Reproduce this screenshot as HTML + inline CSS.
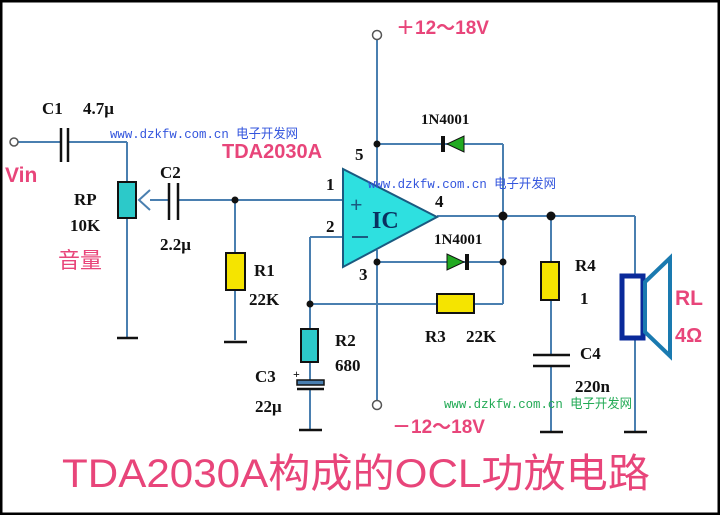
<!DOCTYPE html>
<html><head><meta charset="utf-8"><style>
html,body{margin:0;padding:0;background:#fff}
svg{display:block}
text{font-family:"Liberation Serif","Noto Serif CJK SC",serif;font-weight:bold}
text.wm{font-family:"Liberation Mono","Noto Sans CJK SC",monospace;font-weight:normal;font-size:13px}
text.pk{font-family:"Liberation Sans","Noto Sans CJK SC",sans-serif;font-weight:bold;fill:#e8457a}
</style></head><body>
<svg width="720" height="515" viewBox="0 0 720 515" xmlns="http://www.w3.org/2000/svg">
<rect x="1" y="1" width="718" height="513" fill="#fff" stroke="#000" stroke-width="3"/>
<g stroke="#4a7fb0" stroke-width="2" fill="none">
<line x1="18" y1="142" x2="61" y2="142"/>
<line x1="68" y1="142" x2="127" y2="142"/>
<line x1="127" y1="142" x2="127" y2="182"/>
<line x1="127" y1="218" x2="127" y2="338"/>
<line x1="150" y1="200" x2="169" y2="200"/>
<line x1="178" y1="200" x2="343" y2="200"/>
<line x1="235" y1="200" x2="235" y2="253"/>
<line x1="235" y1="290" x2="235" y2="340"/>
<line x1="310" y1="237" x2="343" y2="237"/>
<line x1="310" y1="237" x2="310" y2="329"/>
<line x1="310" y1="304" x2="437" y2="304"/>
<line x1="474" y1="304" x2="503" y2="304"/>
<line x1="310" y1="362" x2="310" y2="380"/>
<line x1="310" y1="390" x2="310" y2="430"/>
<line x1="377" y1="40" x2="377" y2="186"/>
<line x1="377" y1="250" x2="377" y2="400"/>
<line x1="377" y1="144" x2="503" y2="144"/>
<line x1="377" y1="262" x2="503" y2="262"/>
<line x1="503" y1="144" x2="503" y2="304"/>
<line x1="437" y1="216" x2="635" y2="216"/>
<line x1="551" y1="216" x2="551" y2="262"/>
<line x1="551" y1="300" x2="551" y2="355"/>
<line x1="551" y1="366" x2="551" y2="432"/>
<line x1="635" y1="216" x2="635" y2="275"/>
<line x1="635" y1="338" x2="635" y2="432"/>
</g>
<g fill="#fff" stroke="#555" stroke-width="1.5">
<circle cx="14" cy="142" r="4"/><circle cx="377" cy="35" r="4.5"/><circle cx="377" cy="405" r="4.5"/>
</g>
<g stroke="#111" stroke-width="2.5">
<line x1="61" y1="128" x2="61" y2="162"/><line x1="68" y1="128" x2="68" y2="162"/>
<line x1="169" y1="183" x2="169" y2="220"/><line x1="178" y1="183" x2="178" y2="220"/>
<line x1="533" y1="355" x2="570" y2="355"/><line x1="533" y1="366" x2="570" y2="366"/>
<line x1="297" y1="389" x2="324" y2="389"/>
</g>
<rect x="297" y="380" width="27" height="5" fill="#4a7fb0" stroke="#111" stroke-width="1.5"/>
<text x="293" y="378" font-size="12" fill="#111">+</text>
<g stroke="#111" stroke-width="2.5">
<line x1="117" y1="338" x2="138" y2="338"/>
<line x1="224" y1="342" x2="247" y2="342"/>
<line x1="299" y1="430" x2="322" y2="430"/>
<line x1="540" y1="432" x2="563" y2="432"/>
<line x1="624" y1="432" x2="647" y2="432"/>
</g>
<g stroke="#111" stroke-width="2">
<rect x="118" y="182" width="18" height="36" fill="#2cc9c9"/>
<rect x="226" y="253" width="19" height="37" fill="#f5e400"/>
<rect x="301" y="329" width="17" height="33" fill="#2cc9c9"/>
<rect x="437" y="294" width="37" height="19" fill="#f5e400"/>
<rect x="541" y="262" width="18" height="38" fill="#f5e400"/>
</g>
<path d="M150 190 L139 200 L150 210" stroke="#4a7fb0" stroke-width="2" fill="none"/>
<polygon points="343,169 343,267 437,217" fill="#2ee0e0" stroke="#1a5a80" stroke-width="2"/>
<text x="350" y="212" font-size="22" fill="#1a5a80" font-family="Liberation Sans">+</text>
<line x1="352" y1="237" x2="368" y2="237" stroke="#1a5a80" stroke-width="2"/>
<text x="372" y="228" font-size="24" fill="#0a3060">IC</text>
<polygon points="464,136 464,152 447,144" fill="#22aa22" stroke="#111" stroke-width="1"/>
<line x1="443" y1="136" x2="443" y2="152" stroke="#111" stroke-width="4"/>
<polygon points="447,254 447,270 464,262" fill="#22aa22" stroke="#111" stroke-width="1"/>
<line x1="467" y1="254" x2="467" y2="270" stroke="#111" stroke-width="4"/>
<g fill="#111">
<circle cx="235" cy="200" r="3.5"/><circle cx="310" cy="304" r="3.5"/>
<circle cx="377" cy="144" r="3.5"/><circle cx="377" cy="262" r="3.5"/>
<circle cx="503" cy="216" r="4.5"/><circle cx="503" cy="262" r="3.5"/><circle cx="551" cy="216" r="4.5"/>
</g>
<rect x="622" y="276" width="21" height="62" fill="#fff" stroke="#0a2a9a" stroke-width="5"/>
<polygon points="645,282 670,258 670,356 645,332" fill="none" stroke="#1a7ab0" stroke-width="4"/>
<g fill="#111" font-size="17">
<text x="42" y="114">C1</text><text x="83" y="114">4.7μ</text>
<text x="74" y="205">RP</text><text x="70" y="231">10K</text>
<text x="160" y="178">C2</text><text x="160" y="250">2.2μ</text>
<text x="254" y="276">R1</text><text x="249" y="305">22K</text>
<text x="335" y="346">R2</text><text x="335" y="371">680</text>
<text x="255" y="382">C3</text><text x="255" y="412">22μ</text>
<text x="425" y="342">R3</text><text x="466" y="342">22K</text>
<text x="575" y="271">R4</text><text x="580" y="304">1</text>
<text x="580" y="359">C4</text><text x="575" y="392">220n</text>
<text x="326" y="190">1</text><text x="326" y="232">2</text>
<text x="355" y="160">5</text><text x="359" y="280">3</text><text x="435" y="207">4</text>
<text x="421" y="124" font-size="15">1N4001</text>
<text x="434" y="244" font-size="15">1N4001</text>
</g>
<text class="pk" x="5" y="182" font-size="21">Vin</text>
<text class="pk" x="222" y="158" font-size="20">TDA2030A</text>
<text class="pk" x="396" y="34" font-size="19">＋12～18V</text>
<text class="pk" x="392" y="433" font-size="19">－12～18V</text>
<text class="pk" x="675" y="305" font-size="21">RL</text>
<text class="pk" x="675" y="342" font-size="20">4Ω</text>
<text x="58" y="268" font-size="22" fill="#e8457a" style="font-family:'Noto Sans CJK SC',sans-serif;font-weight:normal">音量</text>
<text class="wm" x="110" y="138" fill="#3355dd" textLength="188" lengthAdjust="spacingAndGlyphs">www.dzkfw.com.cn 电子开发网</text>
<text class="wm" x="368" y="188" fill="#3355dd" textLength="188" lengthAdjust="spacingAndGlyphs">www.dzkfw.com.cn 电子开发网</text>
<text class="wm" x="444" y="408" fill="#22aa55" textLength="188" lengthAdjust="spacingAndGlyphs">www.dzkfw.com.cn 电子开发网</text>
<text x="62" y="487" font-size="40" fill="#e8457a" textLength="588" lengthAdjust="spacingAndGlyphs" style="font-family:'Liberation Sans','Noto Sans CJK SC',sans-serif;font-weight:normal">TDA2030A构成的OCL功放电路</text>
</svg>
</body></html>
